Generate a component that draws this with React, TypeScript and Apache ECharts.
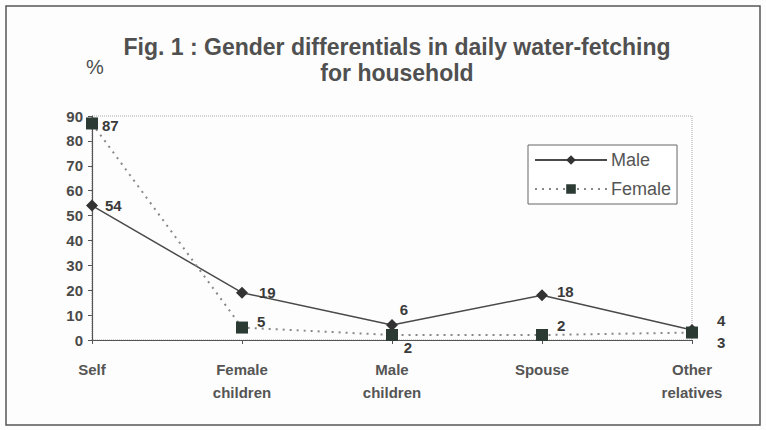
import React, { useEffect, useRef } from "react";
import * as echarts from "echarts";

const categories = ["Self", "Female\nchildren", "Male\nchildren", "Spouse", "Other\nrelatives"];
const maleValues = [54, 19, 6, 18, 4];
const femaleValues = [87, 5, 2, 2, 3];
const yTicks = [0, 10, 20, 30, 40, 50, 60, 70, 80, 90];

// label placement per point: [position, offsetX, offsetY]
const malePlacement: [string, number, number][] = [
  ["right", 2, 0],
  ["right", 6, 0],
  ["top", 12, 3],
  ["right", 4, -4],
  ["right", 14, -10],
];
const femalePlacement: [string, number, number][] = [
  ["right", -1, 2],
  ["right", 4, -6],
  ["bottom", 16, -6],
  ["right", 4, -10],
  ["right", 14, 10],
];

const FONT = "Liberation Sans, Arial, sans-serif";

export default function App() {
  const ref = useRef<HTMLDivElement>(null);

  useEffect(() => {
    if (!ref.current) return;
    const chart = echarts.init(ref.current, null, { renderer: "svg" });
    const labelStyle = { fontFamily: FONT, fontSize: 15, fontWeight: "bold" as const, color: "#3a3a3a" };

    chart.setOption({
      animation: false,
      backgroundColor: "#fdfdfd",
      textStyle: { fontFamily: FONT },
      title: {
        text: "Fig. 1 : Gender differentials in daily water-fetching\nfor household",
        left: 392,
        top: 29,
        textAlign: "center",
        textStyle: { fontFamily: FONT, fontSize: 23, fontWeight: "bold", color: "#505050", lineHeight: 26 },
      },
      graphic: [
        {
          type: "rect",
          z: 100,
          shape: { x: 6, y: 6, width: 754, height: 419 },
          style: { fill: "transparent", stroke: "#555", lineWidth: 1.5 },
          silent: true,
        },
        {
          type: "text",
          x: 86,
          y: 57,
          style: { text: "%", fontFamily: FONT, fontSize: 20, fill: "#4d4d4d" },
        },
      ],
      legend: {
        orient: "vertical",
        left: 528,
        top: 145,
        padding: [6, 6, 6, 6],
        itemWidth: 72,
        itemHeight: 12,
        itemGap: 11,
        borderColor: "#666",
        borderWidth: 1,
        backgroundColor: "#fff",
        textStyle: { fontFamily: FONT, fontSize: 18, color: "#555", padding: [0, 0, 0, -1] },
        data: ["Male", "Female"],
      },
      grid: {
        left: 92,
        right: 74,
        top: 116,
        bottom: 90,
        show: true,
        borderColor: "#aaa",
        borderType: "dotted",
        borderWidth: 1,
        backgroundColor: "transparent",
      },
      xAxis: {
        type: "category",
        data: categories,
        boundaryGap: false,
        axisLine: { lineStyle: { color: "#555", width: 1.2 } },
        axisTick: { show: true, inside: false, length: 4, alignWithLabel: true, lineStyle: { color: "#555" } },
        axisLabel: {
          fontFamily: FONT,
          fontSize: 15,
          fontWeight: "bold",
          color: "#555",
          margin: 18,
          lineHeight: 23,
          interval: 0,
        },
      },
      yAxis: {
        type: "value",
        min: yTicks[0],
        max: yTicks[yTicks.length - 1],
        interval: 10,
        splitLine: { show: false },
        axisLine: { show: true, lineStyle: { color: "#555", width: 1.2 } },
        axisTick: { show: true, length: 4, lineStyle: { color: "#555" } },
        axisLabel: { fontFamily: FONT, fontSize: 15, fontWeight: "bold", color: "#4a4a4a", margin: 9 },
      },
      series: [
        {
          name: "Male",
          type: "line",
          data: maleValues.map((v, i) => ({
            value: v,
            label: {
              position: malePlacement[i][0],
              offset: [malePlacement[i][1], malePlacement[i][2]],
            },
          })),
          symbol: "diamond",
          symbolSize: 12,
          lineStyle: { color: "#4a4a4a", width: 1.5, type: "solid" },
          itemStyle: { color: "#333" },
          label: { show: true, ...labelStyle },
          z: 3,
        },
        {
          name: "Female",
          type: "line",
          data: femaleValues.map((v, i) => ({
            value: v,
            label: {
              position: femalePlacement[i][0],
              offset: [femalePlacement[i][1], femalePlacement[i][2]],
            },
          })),
          symbol: "rect",
          symbolSize: 12,
          lineStyle: { color: "#888", width: 2, type: [2, 5] },
          itemStyle: { color: "#2b3a33" },
          label: { show: true, ...labelStyle },
          z: 4,
        },
      ],
    });

    return () => chart.dispose();
  }, []);

  return (
    <div style={{ position: "absolute", left: 0, top: 0 }}>
      <div ref={ref} style={{ width: 766, height: 430 }} />
    </div>
  );
}
